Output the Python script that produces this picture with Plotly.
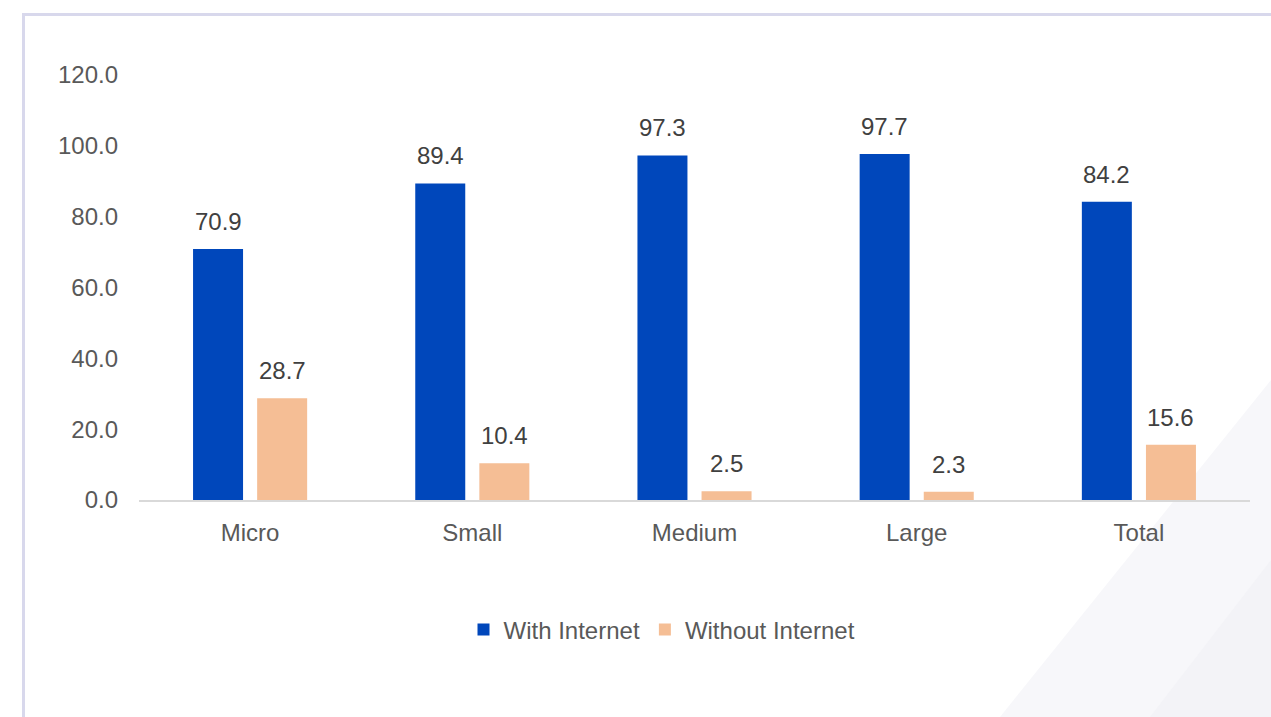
import plotly.graph_objects as go

categories = ["Micro", "Small", "Medium", "Large", "Total"]
with_internet = [70.9, 89.4, 97.3, 97.7, 84.2]
without_internet = [28.7, 10.4, 2.5, 2.3, 15.6]
y_ticks = [0, 20, 40, 60, 80, 100, 120]

BLUE = "#0047BB"
PEACH = "#F5BE95"
FONT = "Liberation Sans, Arial, sans-serif"
FS = 24

W, H = 1271, 717
L, R, T, B = 139, 21, 75, 217
pw, ph = W - L - R, H - T - B


def px_x(p):
    return (p - L) / pw


def px_y(p):
    return (H - B - p) / ph


fig = go.Figure()
fig.add_trace(go.Bar(
    name="With Internet", x=categories, y=with_internet,
    marker=dict(color=BLUE, line=dict(width=0)),
))
fig.add_trace(go.Bar(
    name="Without Internet", x=categories, y=without_internet,
    marker=dict(color=PEACH, line=dict(width=0)),
))

# value labels above each bar
annotations = []
for series, shift in ((with_internet, -32), (without_internet, 32)):
    for cat, v in zip(categories, series):
        annotations.append(dict(
            x=cat, y=v, xref="x", yref="y", text=f"{v:.1f}",
            showarrow=False, xanchor="center", yanchor="bottom",
            xshift=shift, yshift=12,
            font=dict(size=FS, color="#404040", family=FONT),
        ))

shapes = [
    # faint diagonal backdrop in the lower right corner
    dict(type="path", xref="paper", yref="paper", layer="below",
         path=(f"M {px_x(1000)},{px_y(717)} L {px_x(1271)},{px_y(380)} "
               f"L {px_x(1271)},{px_y(717)} Z"),
         fillcolor="#F7F7FA", line=dict(width=0)),
    dict(type="path", xref="paper", yref="paper", layer="below",
         path=(f"M {px_x(1150)},{px_y(717)} L {px_x(1271)},{px_y(560)} "
               f"L {px_x(1271)},{px_y(717)} Z"),
         fillcolor="#F3F3F7", line=dict(width=0)),
    # frame lines
    dict(type="line", xref="paper", yref="paper",
         x0=px_x(23.5), x1=px_x(23.5), y0=px_y(14.5), y1=px_y(717),
         line=dict(color="#D8D8EC", width=3)),
    dict(type="line", xref="paper", yref="paper",
         x0=px_x(22), x1=px_x(1271), y0=px_y(14.5), y1=px_y(14.5),
         line=dict(color="#D8D8EC", width=3)),
]

fig.update_layout(
    width=W, height=H,
    margin=dict(l=L, r=R, t=T, b=B),
    paper_bgcolor="white", plot_bgcolor="rgba(0,0,0,0)",
    barmode="group", bargap=0.423, bargroupgap=0.22,
    font=dict(family=FONT, size=FS, color="#595959"),
    showlegend=True,
    legend=dict(orientation="h", x=px_x(662), xanchor="center",
                y=px_y(630), yanchor="middle",
                font=dict(size=FS, color="#595959", family=FONT),
                bgcolor="rgba(0,0,0,0)", itemwidth=30),
    shapes=shapes,
    annotations=annotations,
    xaxis=dict(showgrid=False, showline=True, linecolor="#D9D9D9", linewidth=2,
               ticks="", tickfont=dict(size=FS, color="#595959"),
               ticklabelstandoff=10),
    yaxis=dict(range=[0, 120], tickvals=y_ticks,
               ticktext=[f"{v:.1f}" for v in y_ticks],
               showgrid=False, zeroline=False, showline=False,
               tickfont=dict(size=FS, color="#595959"), ticklabelstandoff=20),
)

fig.write_html("out.html")
